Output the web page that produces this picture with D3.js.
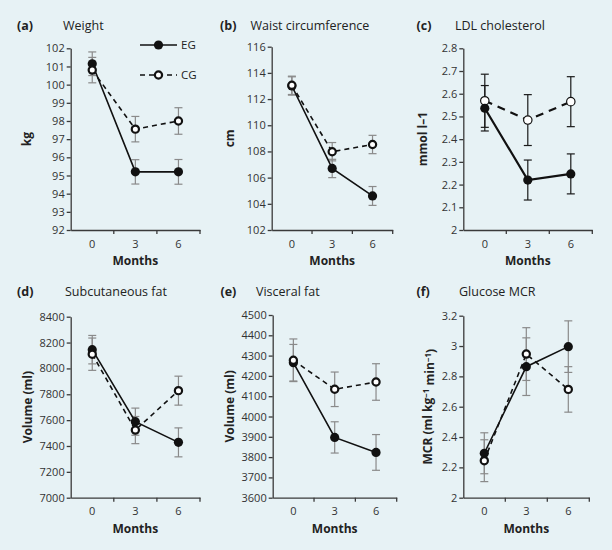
<!DOCTYPE html>
<html><head><meta charset="utf-8">
<script src="https://cdn.jsdelivr.net/npm/d3@7"></script>
<style>
html,body{margin:0;padding:0;background:#e7f2f5;}
svg{display:block;font-family:"Open Sans",sans-serif;}
</style></head><body>
<svg id="chart" width="612" height="550"></svg>
<script>
// ---------- data ----------
const months = ["0", "3", "6"];
const groups = ["EG", "CG"];

const weightEG = [101.15, 95.2, 95.2];
const weightEGerr = [0.65, 0.67, 0.68];
const weightCG = [100.8, 97.55, 98.0];
const weightCGerr = [0.7, 0.7, 0.73];
const weightTicks = [92, 93, 94, 95, 96, 97, 98, 99, 100, 101, 102];

const waistEG = [113.0, 106.7, 104.6];
const waistEGerr = [0.7, 0.7, 0.72];
const waistCG = [113.05, 107.98, 108.53];
const waistCGerr = [0.7, 0.7, 0.7];
const waistTicks = [102, 104, 106, 108, 110, 112, 114, 116];

const ldlEG = [2.536, 2.22, 2.247];
const ldlEGerr = [0.1, 0.088, 0.088];
const ldlCG = [2.569, 2.484, 2.565];
const ldlCGerr = [0.117, 0.112, 0.11];
const ldlTicks = [2, 2.1, 2.2, 2.3, 2.4, 2.5, 2.6, 2.7, 2.8];

const subcutEG = [8145, 7588, 7428];
const subcutEGerr = [110, 105, 112];
const subcutCG = [8110, 7523, 7828];
const subcutCGerr = [125, 105, 112];
const subcutTicks = [7000, 7200, 7400, 7600, 7800, 8000, 8200, 8400];

const visceralEG = [4265, 3897, 3823];
const visceralEGerr = [90, 77, 88];
const visceralCG = [4277, 4134, 4170];
const visceralCGerr = [105, 85, 90];
const visceralTicks = [3600, 3700, 3800, 3900, 4000, 4100, 4200, 4300, 4400, 4500];

const mcrEG = [2.293, 2.864, 2.996];
const mcrEGerr = [0.135, 0.19, 0.17];
const mcrCG = [2.244, 2.947, 2.714];
const mcrCGerr = [0.138, 0.174, 0.15];
const mcrTicks = [2, 2.2, 2.4, 2.6, 2.8, 3, 3.2];

// ---------- layout ----------
const panels = [
  {tag:"(a)", title:"Weight", ylab:["kg"], eg:weightEG, egErr:weightEGerr, cg:weightCG, cgErr:weightCGerr, ticks:weightTicks,
   x0:70.7, x1:200, y0:48.3, y1:230, tagX:17, titleX:63, titleY:29.5, ylabX:27, errColor:"#8a8a8a", thin:false, legend:true},
  {tag:"(b)", title:"Waist circumference", ylab:["cm"], eg:waistEG, egErr:waistEGerr, cg:waistCG, cgErr:waistCGerr, ticks:waistTicks,
   x0:271.7, x1:392.7, y0:46.7, y1:230, tagX:220, titleX:250.5, titleY:29.5, ylabX:230, errColor:"#8a8a8a", thin:false},
  {tag:"(c)", title:"LDL cholesterol", ylab:["mmol l–1"], eg:ldlEG, egErr:ldlEGerr, cg:ldlCG, cgErr:ldlCGerr, ticks:ldlTicks,
   x0:463.3, x1:592.3, y0:48.3, y1:230, tagX:416.5, titleX:455, titleY:29.5, ylabX:423, errColor:"#1a1a1a", thin:true},
  {tag:"(d)", title:"Subcutaneous fat", ylab:["Volume (ml)"], eg:subcutEG, egErr:subcutEGerr, cg:subcutCG, cgErr:subcutCGerr, ticks:subcutTicks,
   x0:70.7, x1:200, y0:316.7, y1:497.7, tagX:17, titleX:65, titleY:295.5, ylabX:28, errColor:"#8a8a8a", thin:false},
  {tag:"(e)", title:"Visceral fat", ylab:["Volume (ml)"], eg:visceralEG, egErr:visceralEGerr, cg:visceralCG, cgErr:visceralCGerr, ticks:visceralTicks,
   x0:272.7, x1:396.7, y0:315, y1:497.7, tagX:220.5, titleX:256, titleY:295.5, ylabX:230, errColor:"#8a8a8a", thin:false},
  {tag:"(f)", title:"Glucose MCR", ylab:"mcr", eg:mcrEG, egErr:mcrEGerr, cg:mcrCG, cgErr:mcrCGerr, ticks:mcrTicks,
   x0:463.3, x1:589.3, y0:315.7, y1:497.7, tagX:416.5, titleX:459, titleY:295.5, ylabX:428, errColor:"#8a8a8a", thin:false}
];

const svg = d3.select("#chart");
svg.append("rect").attr("width",612).attr("height",550).attr("fill","#e7f2f5");

const axisColor = "#3a3a3a";
const textColor = "#333";

panels.forEach(p => {
  const g = svg.append("g");
  const x = d3.scaleBand().domain(months).range([p.x0, p.x1]);
  const cx = m => x(m) + x.bandwidth()/2;
  const y = d3.scaleLinear().domain([p.ticks[0], p.ticks[p.ticks.length-1]]).range([p.y1, p.y0]);

  // y axis
  const ya = g.append("g").attr("transform",`translate(${p.x0},0)`)
    .call(d3.axisLeft(y).tickValues(p.ticks).tickSize(4).tickSizeOuter(0).tickPadding(2).tickFormat(d3.format("~g")));
  ya.select(".domain").attr("stroke",axisColor).attr("stroke-width",1.3);
  ya.selectAll(".tick line").attr("stroke",axisColor).attr("stroke-width",1.3);
  ya.selectAll(".tick text").attr("fill",textColor).style("font-size","11px").style("font-family","'Open Sans',sans-serif");

  // x axis
  const xa = g.append("g").attr("transform",`translate(0,${p.y1})`)
    .call(d3.axisBottom(x).tickSize(0).tickSizeOuter(0).tickPadding(10));
  xa.select(".domain").attr("stroke",axisColor).attr("stroke-width",1.3);
  xa.selectAll(".tick text").attr("fill",textColor).style("font-size","11px").style("font-family","'Open Sans',sans-serif");
  xa.selectAll(".sep").data(months).enter().append("line").attr("class","sep")
    .attr("x1",m=>x(m)+x.bandwidth()).attr("x2",m=>x(m)+x.bandwidth())
    .attr("y1",0).attr("y2",4).attr("stroke",axisColor).attr("stroke-width",1.3);

  // x label
  g.append("text").attr("x",(p.x0+p.x1)/2).attr("y",p.y1+35).attr("text-anchor","middle")
    .attr("font-weight","bold").attr("font-size","12px").attr("fill","#222").text("Months");

  // y label
  const yl = g.append("text").attr("transform",`translate(${p.ylabX},${(p.y0+p.y1)/2}) rotate(-90)`)
    .attr("text-anchor","middle").attr("dy","0.35em").attr("font-weight","bold").attr("font-size","12px").attr("fill","#222");
  if (p.ylab === "mcr") {
    yl.append("tspan").text("MCR (ml kg");
    yl.append("tspan").attr("dy","-0.4em").attr("font-size","8px").text("−1");
    yl.append("tspan").attr("dy","0.4em").text(" min");
    yl.append("tspan").attr("dy","-0.4em").attr("font-size","8px").text("−1");
    yl.append("tspan").attr("dy","0.4em").text(")");
  } else {
    yl.text(p.ylab[0]);
  }

  // titles
  g.append("text").attr("x",p.tagX).attr("y",p.titleY).attr("font-weight","bold").attr("font-size","12.5px").attr("fill","#222").text(p.tag);
  g.append("text").attr("x",p.titleX).attr("y",p.titleY).attr("font-size","12.5px").attr("fill","#222").text(p.title);

  const series = [
    {key:"EG", v:p.eg, e:p.egErr},
    {key:"CG", v:p.cg, e:p.cgErr}
  ];

  // error bars
  series.forEach(s => {
    const eb = g.append("g").attr("stroke",p.errColor).attr("stroke-width",1.2);
    months.forEach((m,i) => {
      const top = y(s.v[i]+s.e[i]), bot = y(s.v[i]-s.e[i]), xc = cx(m);
      eb.append("line").attr("x1",xc).attr("x2",xc).attr("y1",top).attr("y2",bot);
      eb.append("line").attr("x1",xc-4).attr("x2",xc+4).attr("y1",top).attr("y2",top);
      eb.append("line").attr("x1",xc-4).attr("x2",xc+4).attr("y1",bot).attr("y2",bot);
    });
  });

  const line = d3.line().x((d,i)=>cx(months[i])).y(d=>y(d));
  const lw = p.thin ? 2.2 : 1.6;
  // lines
  g.append("path").datum(p.cg).attr("d",line).attr("fill","none").attr("stroke","#111")
    .attr("stroke-width",lw).attr("stroke-dasharray",p.thin?"8,6":"5,4");
  g.append("path").datum(p.eg).attr("d",line).attr("fill","none").attr("stroke","#111").attr("stroke-width",lw);

  const drawEG = () => g.selectAll(null).data(p.eg).enter().append("circle")
    .attr("cx",(d,i)=>cx(months[i])).attr("cy",d=>y(d)).attr("r",4.6).attr("fill","#111");
  const drawCG = () => g.selectAll(null).data(p.cg).enter().append("circle")
    .attr("cx",(d,i)=>cx(months[i])).attr("cy",d=>y(d)).attr("r",p.thin?4.2:3.6)
    .attr("fill","#fff").attr("stroke","#111").attr("stroke-width",p.thin?1.2:2.2);
  if (p.thin) { drawCG(); drawEG(); } else { drawEG(); drawCG(); }

  // legend
  if (p.legend) {
    const lg = g.append("g");
    const ly = [45, 75];
    groups.forEach((k,i) => {
      lg.append("line").attr("x1",140).attr("x2",177).attr("y1",ly[i]).attr("y2",ly[i])
        .attr("stroke","#111").attr("stroke-width",1.6).attr("stroke-dasharray", k==="CG" ? "5,4" : null);
      if (k==="EG") lg.append("circle").attr("cx",158.5).attr("cy",ly[i]).attr("r",4.6).attr("fill","#111");
      else lg.append("circle").attr("cx",158.5).attr("cy",ly[i]).attr("r",3.6).attr("fill","#fff").attr("stroke","#111").attr("stroke-width",2.2);
      lg.append("text").attr("x",181).attr("y",ly[i]+4).attr("font-size","11.5px").attr("fill","#222").text(k);
    });
  }
});
</script>
</body></html>
